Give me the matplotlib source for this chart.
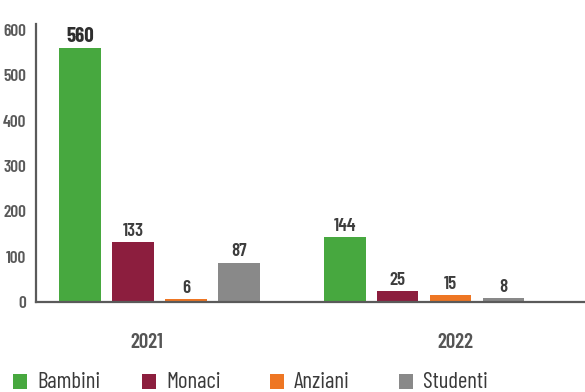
import matplotlib
matplotlib.use("Agg")
import matplotlib.pyplot as plt
from matplotlib.patches import Rectangle
import numpy as np

plt.rcParams['font.family'] = ['Barlow Condensed', 'DejaVu Sans']

years = ["2021", "2022"]
categories = ["Bambini", "Monaci", "Anziani", "Studenti"]
values = {
    "Bambini": [560, 144],
    "Monaci": [133, 25],
    "Anziani": [6, 15],
    "Studenti": [87, 8],
}
colors = ["#47a83f", "#8c1e3e", "#ee7623", "#898989"]
yticks = [0, 100, 200, 300, 400, 500, 600]

W, H = 585, 392
fig = plt.figure(figsize=(W / 100, H / 100), dpi=100)
ax = fig.add_axes([36 / W, (H - 302) / H, 1 - 36 / W, (302 - 24) / H])

group_x = np.arange(len(years))
step = 0.2
width = 0.158
axis_col = "#5a5a5a"

for i, (cat, col) in enumerate(zip(categories, colors)):
    xs = group_x + (i - 1.5) * step
    vals = values[cat]
    ax.bar(xs, vals, width=width, color=col, zorder=2)
    for x, v in zip(xs, vals):
        big = v >= 500
        ax.annotate(str(v), (x, v), xytext=(0, 1.5), textcoords="offset points",
                    ha="center", va="bottom", fontsize=15 if big else 13.5,
                    fontweight="bold" if big else "semibold",
                    color="#2e2e2e" if big else "#3d3d3d")

ax.set_xlim(-0.466, 1.608)
ax.set_ylim(0, 613)
ax.set_yticks(yticks)
ax.set_yticklabels([str(t) for t in yticks], fontsize=12.5, fontweight="semibold", color="#595959")
ax.tick_params(axis="y", length=0, pad=7)
ax.set_xticks([-0.047, 1.117])
ax.set_xticklabels(years, fontsize=15, fontweight="semibold", color="#555555")
ax.tick_params(axis="x", length=0, pad=22)

for s in ["top", "right"]:
    ax.spines[s].set_visible(False)
for s in ["left", "bottom"]:
    ax.spines[s].set_color(axis_col)
    ax.spines[s].set_linewidth(1.6)

# legend row along the bottom edge
leg_x = [13, 142, 270, 399]
for x0, cat, col in zip(leg_x, categories, colors):
    fig.add_artist(Rectangle((x0 / W, (H - 389) / H), 14 / W, 15 / H,
                             transform=fig.transFigure, color=col, lw=0))
    fig.text((x0 + 24) / W, (H - 383) / H, cat, fontsize=16.5, color="#3a3a3a",
             ha="left", va="center")

fig.savefig("out.png", dpi=100)
